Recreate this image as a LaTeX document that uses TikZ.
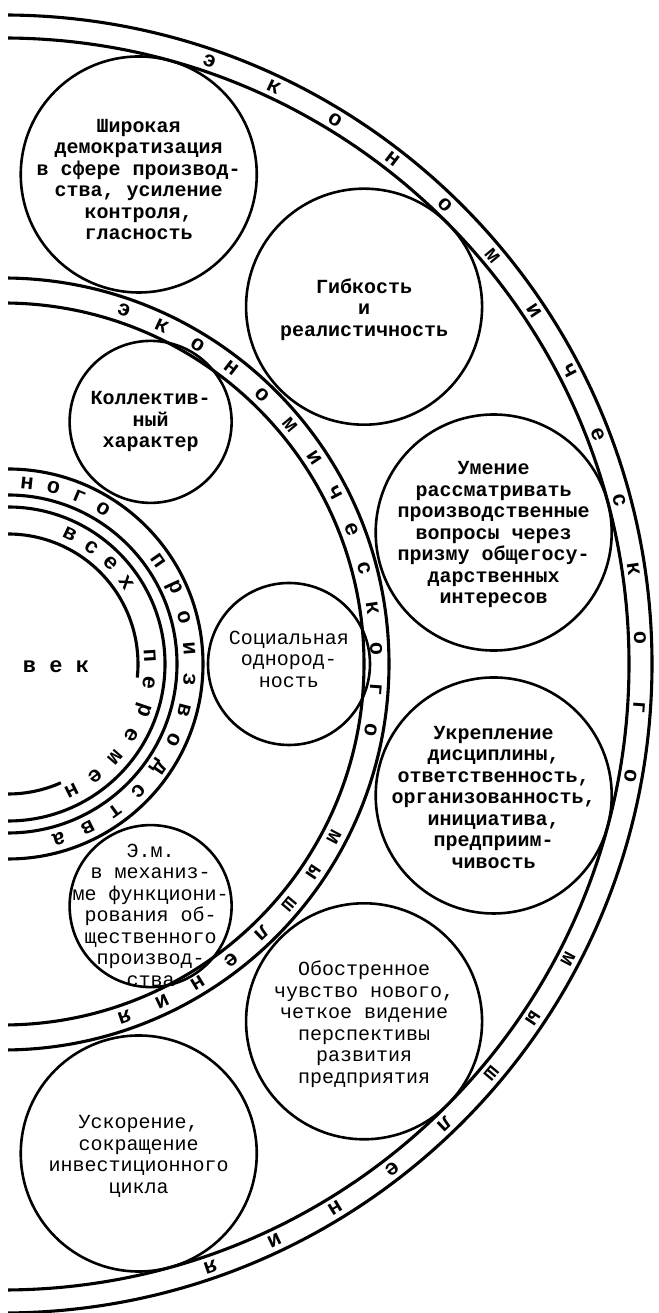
\documentclass[tikz,border=0pt]{standalone}
\usepackage{fontspec}
\setmainfont{Liberation Mono}
\usetikzlibrary{calc}

\tikzset{
  ringline/.style={line width=3.1pt},
  bubble/.style={circle, draw, line width=2.6pt, inner sep=0pt},
  big/.style={bubble, minimum size=236pt},
  small/.style={bubble, minimum size=162pt},
  note/.style={align=center, inner sep=0pt, font=\fontsize{20}{21.5}\selectfont},
  heavy/.style={note, font=\fontsize{20}{21.5}\selectfont\bfseries},
  glyph/.style={inner sep=0pt, font=\fontsize{22}{22}\selectfont\bfseries},
}

\begin{document}
\begin{tikzpicture}[x=1pt, y=1pt]
  \useasboundingbox (0,0) rectangle (658,1313);
  \coordinate (o) at (3,649);
  \coordinate (oi) at (8,649);

  % rings
  \begin{scope}
    \clip (8,0) rectangle (658,1313);
    \foreach \r in {649,626,386,361}
      \draw[ringline] ($(o)+(90:\r)$) arc[start angle=90, end angle=-90, radius=\r];
    \foreach \r in {195,169,157}
      \draw[ringline] ($(oi)+(90:\r)$) arc[start angle=90, end angle=-90, radius=\r];
    \draw[ringline] ($(oi)+(90:130)$) arc[start angle=90, end angle=-6, radius=130];
    \draw[ringline] ($(oi)+(-66:130)$) arc[start angle=-66, end angle=-90, radius=130];
  \end{scope}

  % letters along the rings
  \foreach \ch [count=\i from 0] in {э,к,о,н,о,м,и,ч,е,с,к,о,г,о} {
    \pgfmathsetmacro{\ang}{71.1-6.25*\i}
    \node[glyph, rotate=\ang-90] (mid-\i) at ($(o)+(\ang:373.5)$) {\ch};
    \node[glyph, rotate=\ang-90] (out-\i) at ($(o)+(\ang:637.5)$) {\ch};
  }
  \foreach \ch [count=\i from 0] in {м,ы,ш,л,е,н,и,я} {
    \pgfmathsetmacro{\ang}{-27.6-6.2*\i}
    \node[glyph, rotate=\ang-90] (midb-\i) at ($(o)+(\ang:373.5)$) {\ch};
    \node[glyph, rotate=\ang-90] (outb-\i) at ($(o)+(\ang:637.5)$) {\ch};
  }
  \foreach \ch/\ang [count=\i] in {н/84,о/75.5,г/67,о/58.5}
    \node[glyph, rotate=\ang-90] (prod-\i) at ($(oi)+(\ang:182)$) {\ch};
  \foreach \ch [count=\i from 0] in {п,р,о,и,з,в,о,д,с,т,в,а} {
    \pgfmathsetmacro{\ang}{34.5-9.85*\i}
    \node[glyph, rotate=\ang-90] (prodb-\i) at ($(oi)+(\ang:182)$) {\ch};
  }
  \foreach \ch/\ang [count=\i] in {в/64.5,с/54.5,е/44.5,х/34.5}
    \node[glyph, rotate=\ang-90] (all-\i) at ($(oi)+(\ang:143.5)$) {\ch};
  \foreach \ch [count=\i from 0] in {п,е,р,е,м,е,н} {
    \pgfmathsetmacro{\ang}{3.5-11.15*\i}
    \node[glyph, rotate=\ang-90] (change-\i) at ($(oi)+(\ang:142)$) {\ch};
  }
  \node[glyph] (age) at (56,646) {в е к};

  % big circles
  \node[big] (wide) at ($(o)+(74.5:508)$) {};
  \node[big] (flex) at ($(o)+(44.7:508)$) {};
  \node[big] (skill) at ($(o)+(15:508)$) {};
  \node[big] (discipline) at ($(o)+(-15:508)$) {};
  \node[big] (novelty) at ($(o)+(-44.7:508)$) {};
  \node[big] (speed) at ($(o)+(-74.5:508)$) {};
  % small circles
  \node[small] (collective) at ($(oi)+(59.5:281)$) {};
  \node[small] (social) at ($(oi)+(0:281)$) {};
  \node[small] (mechanism) at ($(oi)+(-59.5:281)$) {};

  \node[heavy] (wide-t) at ([yshift=-5]wide.center)
    {Широкая\\демократизация\\в сфере производ-\\ства, усиление\\контроля,\\гласность};
  \node[heavy] (flex-t) at ([yshift=-3]flex.center) {Гибкость\\и\\реалистичность};
  \node[heavy] (skill-t) at ([yshift=-2]skill.center)
    {Умение\\рассматривать\\производственные\\вопросы через\\призму общегосу-\\дарственных\\интересов};
  \node[heavy] (discipline-t) at ([yshift=-2]discipline.center)
    {Укрепление\\дисциплины,\\ответственность,\\организованность,\\инициатива,\\предприим-\\чивость};
  \node[note] (novelty-t) at ([yshift=-3]novelty.center)
    {Обостренное\\чувство нового,\\четкое видение\\перспективы\\развития\\предприятия};
  \node[note] (speed-t) at ([yshift=-3]speed.center)
    {Ускорение,\\сокращение\\инвестиционного\\цикла};
  \node[heavy] (collective-t) at (collective.center) {Коллектив-\\ный\\характер};
  \node[note] (social-t) at ([yshift=5]social.center) {Социальная\\однород-\\ность};
  \node[note] (mechanism-t) at ([yshift=-9]mechanism.center)
    {Э.м.\\в механиз-\\ме функциони-\\рования об-\\щественного\\производ-\\ства};
\end{tikzpicture}
\end{document}
